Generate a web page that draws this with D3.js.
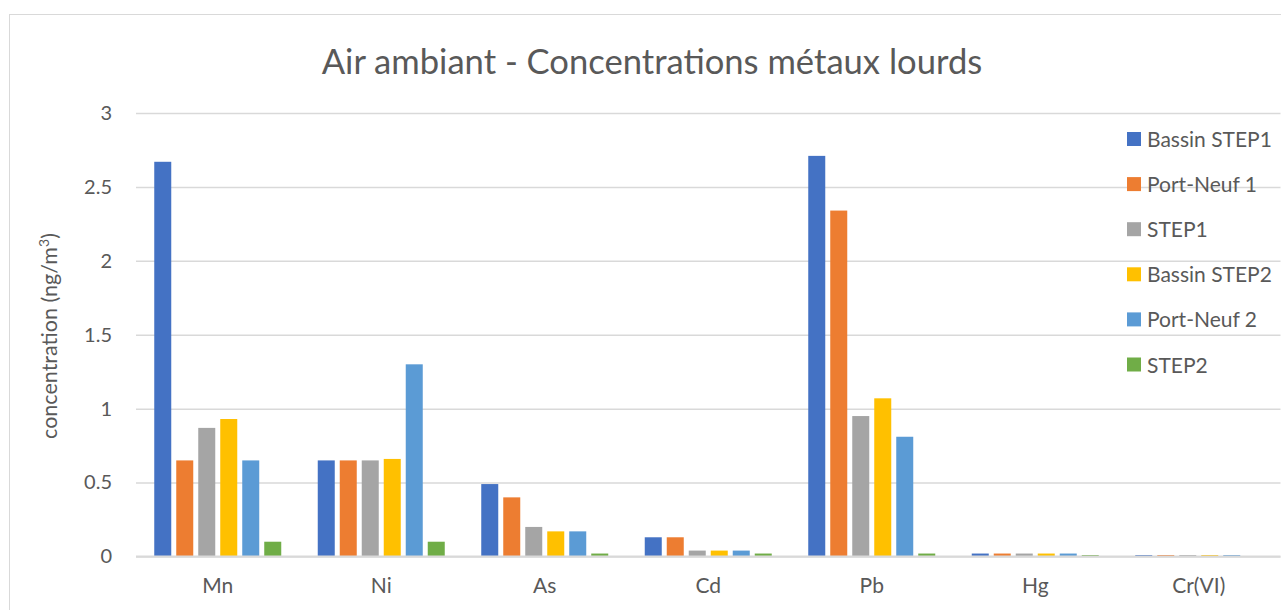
<!DOCTYPE html>
<html>
<head>
<meta charset="utf-8">
<script src="https://cdn.jsdelivr.net/npm/d3@7"></script>
<style>
  body { margin: 0; background: #fff; }
  text { font-family: Lato, "Open Sans", sans-serif; fill: #595959; }
</style>
</head>
<body>
<div id="container"></div>
<script>
// data
const categories = ["Mn", "Ni", "As", "Cd", "Pb", "Hg", "Cr(VI)"];
const seriesNames = ["Bassin STEP1", "Port-Neuf 1", "STEP1", "Bassin STEP2", "Port-Neuf 2", "STEP2"];
const bassinStep1 = [2.67, 0.65, 0.49, 0.13, 2.71, 0.02, 0.01];
const portNeuf1 = [0.65, 0.65, 0.40, 0.13, 2.34, 0.02, 0.01];
const step1 = [0.87, 0.65, 0.20, 0.04, 0.95, 0.02, 0.01];
const bassinStep2 = [0.93, 0.66, 0.17, 0.04, 1.07, 0.02, 0.01];
const portNeuf2 = [0.65, 1.30, 0.17, 0.04, 0.81, 0.02, 0.01];
const step2 = [0.10, 0.10, 0.02, 0.02, 0.02, 0.01, 0];
const yTicks = [0, 0.5, 1, 1.5, 2, 2.5, 3];

const seriesValues = [bassinStep1, portNeuf1, step1, bassinStep2, portNeuf2, step2];
const colors = ["#4472c4", "#ed7d31", "#a5a5a5", "#ffc000", "#5b9bd5", "#70ad47"];

// define constants
const WIDTH = 1281;
const HEIGHT = 610;
const PLOT_LEFT = 136;
const PLOT_RIGHT = 1280.5;
const PLOT_TOP = 113;
const PLOT_BOTTOM = 556.5;

const svg = d3.select("#container")
    .append("svg")
    .attr("width", WIDTH)
    .attr("height", HEIGHT);

// chart border
svg.append("rect")
    .attr("x", 9.5).attr("y", 14.5)
    .attr("width", 1300).attr("height", 700)
    .attr("fill", "#fff")
    .attr("stroke", "#d9d9d9");

const x0 = d3.scaleBand()
    .domain(categories)
    .range([PLOT_LEFT, PLOT_RIGHT]);

const groupW = 127;
const x1 = d3.scaleBand()
    .domain(seriesNames)
    .range([(x0.bandwidth() - groupW) / 2, (x0.bandwidth() + groupW) / 2])
    .paddingInner(0.227);

const y = d3.scaleLinear()
    .domain([0, 3])
    .range([PLOT_BOTTOM, PLOT_TOP]);

// gridlines + y labels
const leftAxis = d3.axisLeft(y)
    .tickValues(yTicks)
    .tickSize(-(PLOT_RIGHT - PLOT_LEFT))
    .tickPadding(24)
    .tickFormat(d3.format("~g"));

svg.append("g")
    .attr("transform", "translate(" + PLOT_LEFT + ",0)")
    .call(leftAxis)
    .call(g => g.select(".domain").remove())
    .call(g => g.selectAll("line").attr("stroke", "#d9d9d9").attr("stroke-width", 1.5))
    .call(g => g.selectAll("text").attr("font-size", 20).attr("fill", "#595959")
        .style("font-family", "Lato, sans-serif"));

// bars
const groups = svg.append("g")
    .selectAll("g")
    .data(categories)
    .enter()
    .append("g")
    .attr("transform", d => "translate(" + x0(d) + ",0)");

groups.selectAll("rect")
    .data((d, i) => seriesNames.map((s, j) => ({ s: s, v: seriesValues[j][i], c: colors[j] })))
    .enter()
    .append("rect")
    .attr("x", d => x1(d.s))
    .attr("y", d => y(d.v))
    .attr("width", x1.bandwidth())
    .attr("height", d => y(0) - y(d.v))
    .attr("fill", d => d.c);

// baseline
svg.append("line")
    .attr("x1", PLOT_LEFT).attr("x2", PLOT_RIGHT)
    .attr("y1", y(0)).attr("y2", y(0))
    .attr("stroke", "#d9d9d9").attr("stroke-width", 2);

// x labels
const bottomAxis = d3.axisBottom(x0).tickSize(0).tickPadding(22);
svg.append("g")
    .attr("transform", "translate(0," + PLOT_BOTTOM + ")")
    .call(bottomAxis)
    .call(g => g.select(".domain").remove())
    .call(g => g.selectAll("text").attr("font-size", 21).attr("fill", "#595959")
        .style("font-family", "Lato, sans-serif"));

// title
svg.append("text")
    .attr("x", 652).attr("y", 74)
    .attr("text-anchor", "middle")
    .attr("font-size", 34.6)
    .text("Air ambiant - Concentrations métaux lourds");

// y axis title
const yTitle = svg.append("text")
    .attr("transform", "translate(57,336) rotate(-90)")
    .attr("text-anchor", "middle")
    .attr("font-size", 21.5);
yTitle.append("tspan").text("concentration (ng/m");
yTitle.append("tspan").attr("font-size", 14).attr("dy", -8).text("3");
yTitle.append("tspan").attr("dy", 8).text(")");

// legend
const legend = svg.append("g")
    .selectAll("g")
    .data(seriesNames)
    .enter()
    .append("g")
    .attr("transform", (d, i) => "translate(1127," + (139 + i * 45.1) + ")");

legend.append("rect")
    .attr("x", 0).attr("y", -7)
    .attr("width", 14).attr("height", 14)
    .attr("fill", (d, i) => colors[i]);

legend.append("text")
    .attr("x", 20).attr("y", 8)
    .attr("font-size", 21)
    .text(d => d);
</script>
</body>
</html>
